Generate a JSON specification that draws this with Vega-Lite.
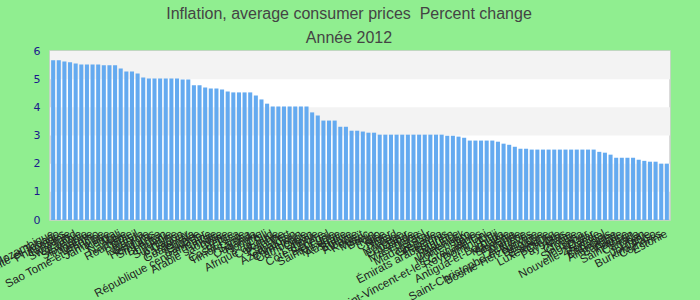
{
  "$schema": "https://vega.github.io/schema/vega-lite/v6.json",
  "width": 620,
  "height": 169,
  "autosize": {"type": "none"},
  "padding": {"left": 50, "top": 51, "right": 30, "bottom": 80},
  "background": "#90EE90",
  "title": {
    "text": ["Inflation, average consumer prices \u00a0Percent change", "Année 2012"],
    "font": "Liberation Sans",
    "fontSize": 16,
    "fontWeight": "normal",
    "color": "#444444",
    "lineHeight": 24,
    "anchor": "middle",
    "offset": -1,
    "dx": -11
  },
  "config": {
    "view": {"fill": "white", "stroke": "#d0d0d0", "strokeWidth": 1.5},
    "axisY": {
      "title": null,
      "values": [0, 1, 2, 3, 4, 5, 6],
      "labelOverlap": false,
      "labelColor": "#1a1a8c",
      "labelFont": "DejaVu Sans",
      "labelFontSize": 11,
      "ticks": false,
      "tickSize": 0,
      "domain": false,
      "grid": false,
      "labelPadding": 10
    }
  },
  "datasets": {
    "bands": [
      {"lo": 1, "hi": 2},
      {"lo": 3, "hi": 4},
      {"lo": 5, "hi": 6}
    ],
    "rows": [
      {"pays": "Mozambique", "valeur": 5.67},
      {"pays": "Trinité-et-Tobago", "valeur": 5.67},
      {"pays": "Philippines", "valeur": 5.63},
      {"pays": "Tanzanie", "valeur": 5.60},
      {"pays": "Swaziland", "valeur": 5.56},
      {"pays": "Zambie", "valeur": 5.52},
      {"pays": "Slovaquie", "valeur": 5.52},
      {"pays": "Zimbabwe", "valeur": 5.52},
      {"pays": "Lesotho", "valeur": 5.52},
      {"pays": "Sao Tome-et-Principe", "valeur": 5.49},
      {"pays": "Jamaïque", "valeur": 5.49},
      {"pays": "Kenya", "valeur": 5.49},
      {"pays": "Mali", "valeur": 5.38},
      {"pays": "Namibie", "valeur": 5.27},
      {"pays": "Roumanie", "valeur": 5.27},
      {"pays": "Brésil", "valeur": 5.20},
      {"pays": "Rwanda", "valeur": 5.06},
      {"pays": "Géorgie", "valeur": 5.02},
      {"pays": "Honduras", "valeur": 5.02},
      {"pays": "Sri Lanka", "valeur": 5.02},
      {"pays": "Bhoutan", "valeur": 5.02},
      {"pays": "Lituanie", "valeur": 5.02},
      {"pays": "Suriname", "valeur": 5.02},
      {"pays": "Gabon", "valeur": 4.99},
      {"pays": "Paraguay", "valeur": 4.99},
      {"pays": "Guatemala", "valeur": 4.78},
      {"pays": "Guinée", "valeur": 4.78},
      {"pays": "Salvador", "valeur": 4.70},
      {"pays": "République centrafricaine", "valeur": 4.67},
      {"pays": "Tunisie", "valeur": 4.67},
      {"pays": "Arabie saoudite", "valeur": 4.63},
      {"pays": "Chine", "valeur": 4.56},
      {"pays": "Belize", "valeur": 4.53},
      {"pays": "Costa Rica", "valeur": 4.53},
      {"pays": "Timor-Leste", "valeur": 4.53},
      {"pays": "Samoa", "valeur": 4.53},
      {"pays": "Ouganda", "valeur": 4.42},
      {"pays": "Hongrie", "valeur": 4.28},
      {"pays": "Chili", "valeur": 4.13},
      {"pays": "Afrique du Sud", "valeur": 4.03},
      {"pays": "Colombie", "valeur": 4.03},
      {"pays": "Pologne", "valeur": 4.03},
      {"pays": "Cap-Vert", "valeur": 4.03},
      {"pays": "Azerbaïdjan", "valeur": 4.03},
      {"pays": "Cameroun", "valeur": 4.03},
      {"pays": "Cambodge", "valeur": 4.03},
      {"pays": "Oman", "valeur": 3.82},
      {"pays": "Lettonie", "valeur": 3.71},
      {"pays": "Côte d'Ivoire", "valeur": 3.53},
      {"pays": "Sénégal", "valeur": 3.53},
      {"pays": "Sainte-Lucie", "valeur": 3.53},
      {"pays": "Mexique", "valeur": 3.31},
      {"pays": "Australie", "valeur": 3.31},
      {"pays": "Bolivie", "valeur": 3.17},
      {"pays": "Albanie", "valeur": 3.17},
      {"pays": "Koweït", "valeur": 3.14},
      {"pays": "Maroc", "valeur": 3.10},
      {"pays": "Bénin", "valeur": 3.10},
      {"pays": "Togo", "valeur": 3.03},
      {"pays": "Corée", "valeur": 3.03},
      {"pays": "Niger", "valeur": 3.03},
      {"pays": "Tchad", "valeur": 3.03},
      {"pays": "Norvège", "valeur": 3.03},
      {"pays": "Équateur", "valeur": 3.03},
      {"pays": "Islande", "valeur": 3.03},
      {"pays": "Macédoine", "valeur": 3.03},
      {"pays": "Israël", "valeur": 3.03},
      {"pays": "Madagascar", "valeur": 3.03},
      {"pays": "Grenade", "valeur": 3.03},
      {"pays": "Panama", "valeur": 3.03},
      {"pays": "Émirats arabes unis", "valeur": 2.99},
      {"pays": "Bahreïn", "valeur": 2.99},
      {"pays": "Maurice", "valeur": 2.96},
      {"pays": "Danemark", "valeur": 2.92},
      {"pays": "Monténégro", "valeur": 2.82},
      {"pays": "Italie", "valeur": 2.82},
      {"pays": "Saint-Vincent-et-les Grenadines", "valeur": 2.82},
      {"pays": "Royaume-Uni", "valeur": 2.82},
      {"pays": "Dominique", "valeur": 2.82},
      {"pays": "Fidji", "valeur": 2.78},
      {"pays": "Antigua-et-Barbuda", "valeur": 2.71},
      {"pays": "Malaisie", "valeur": 2.67},
      {"pays": "Slovénie", "valeur": 2.60},
      {"pays": "Finlande", "valeur": 2.53},
      {"pays": "Autriche", "valeur": 2.53},
      {"pays": "Saint-Christophe-et-Niévès", "valeur": 2.50},
      {"pays": "Bosnie-Herzégovine", "valeur": 2.50},
      {"pays": "Belgique", "valeur": 2.50},
      {"pays": "Espagne", "valeur": 2.50},
      {"pays": "Luxembourg", "valeur": 2.50},
      {"pays": "Chypre", "valeur": 2.50},
      {"pays": "Pays-Bas", "valeur": 2.50},
      {"pays": "Malte", "valeur": 2.50},
      {"pays": "Croatie", "valeur": 2.50},
      {"pays": "Guyana", "valeur": 2.50},
      {"pays": "Singapour", "valeur": 2.50},
      {"pays": "Qatar", "valeur": 2.50},
      {"pays": "Nouvelle-Zélande", "valeur": 2.42},
      {"pays": "Portugal", "valeur": 2.39},
      {"pays": "Bahamas", "valeur": 2.32},
      {"pays": "Allemagne", "valeur": 2.21},
      {"pays": "Barbade", "valeur": 2.21},
      {"pays": "France", "valeur": 2.21},
      {"pays": "Saint-Marin", "valeur": 2.21},
      {"pays": "Canada", "valeur": 2.14},
      {"pays": "Liban", "valeur": 2.10},
      {"pays": "Jordanie", "valeur": 2.07},
      {"pays": "Burkina Faso", "valeur": 2.07},
      {"pays": "Comores", "valeur": 2.00},
      {"pays": "Estonie", "valeur": 2.00}
    ]
  },
  "layer": [
    {
      "data": {"name": "bands"},
      "mark": {"type": "rect", "color": "#f3f3f3"},
      "encoding": {
        "y": {"field": "lo", "type": "quantitative", "scale": {"domain": [0, 6], "nice": false}, "axis": {"values": [0, 1, 2, 3, 4, 5, 6]}},
        "y2": {"field": "hi"}
      }
    },
    {
      "data": {"name": "rows"},
      "mark": {"type": "bar", "color": "#64AAF0"},
      "encoding": {
        "x": {
          "field": "pays",
          "type": "nominal",
          "sort": null,
          "scale": {"paddingInner": 0.28, "paddingOuter": 0.2},
          "axis": {
            "title": null,
            "labelAngle": -28,
            "labelAlign": "right",
            "labelBaseline": "middle",
            "labelFont": "Liberation Sans",
            "labelFontSize": 11.5,
            "labelColor": "#222222",
            "ticks": false,
            "domain": false,
            "labelOverlap": false,
            "labelLimit": 0,
            "labelPadding": 13
          }
        },
        "y": {
          "field": "valeur",
          "type": "quantitative",
          "scale": {"domain": [0, 6], "nice": false},
          "axis": {"values": [0, 1, 2, 3, 4, 5, 6]}
        }
      }
    }
  ]
}
